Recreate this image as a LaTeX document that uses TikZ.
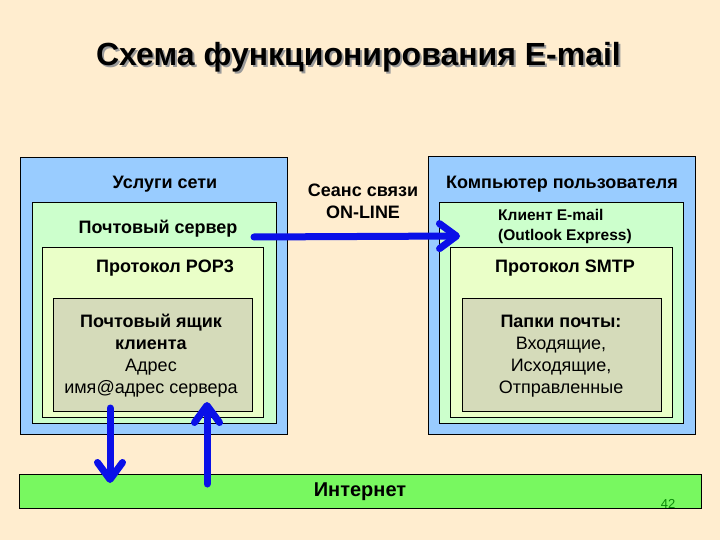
\documentclass[tikz,border=0pt]{standalone}
\usepackage{fontspec}
\setmainfont{Liberation Sans}
\usetikzlibrary{arrows.meta}
\definecolor{bgc}{HTML}{FFEDCF}
\definecolor{bluebox}{HTML}{99CCFF}
\definecolor{greenbox}{HTML}{CCFFCC}
\definecolor{yelbox}{HTML}{EAFFC8}
\definecolor{grbox}{HTML}{D5DBBA}
\definecolor{netbar}{HTML}{78F860}
\definecolor{arrblue}{HTML}{0A10E8}
\definecolor{pagenum}{HTML}{0A8A0A}
\begin{document}
\begin{tikzpicture}[x=1pt,y=-1pt,
  box/.style={draw=black,line width=0.9pt,anchor=north west,inner sep=0pt,outer sep=0pt},
  lbl/.style={inner sep=0pt,align=center,font=\fontsize{18}{22}\selectfont\bfseries},
  lblsmall/.style={inner sep=0pt,align=left,font=\fontsize{15.5}{20}\selectfont\bfseries},
  multi/.style={inner sep=0pt,align=center,font=\fontsize{18}{22}\selectfont},
  bigarrow/.style={draw=arrblue,line width=7pt,line cap=round,line join=round,
     -{Straight Barb[length=17pt,width=25pt,line cap=round,line join=round]}}]
\fill[bgc] (0,0) rectangle (720,540);
\useasboundingbox (0,0) rectangle (720,540);
% title
\node[inner sep=0pt,text=black!40,font=\fontsize{32}{38}\selectfont\bfseries] (titleshadow) at (360.5,59) {Схема функционирования E-mail};
\node[inner sep=0pt,font=\fontsize{32}{38}\selectfont\bfseries] (title) at (358.5,57) {Схема функционирования E-mail};
% left stack
\node[box,fill=bluebox,minimum width=267pt,minimum height=277pt] (Lout) at (20,157) {};
\node[box,fill=greenbox,minimum width=244pt,minimum height=221pt] (Lgrn) at (32,202) {};
\node[box,fill=yelbox,minimum width=221pt,minimum height=170pt] (Lyel) at (42,247) {};
\node[box,fill=grbox,minimum width=199pt,minimum height=113pt] (Lin) at (53,298) {};
\node[lbl] (uslugi) at (165,184) {Услуги сети};
\node[lbl] (server) at (158,229) {Почтовый сервер};
\node[lbl] (pop3) at (165,268) {Протокол POP3};
\node[multi] (mailbox) at (151,356) {\textbf{Почтовый ящик}\\\textbf{клиента}\\Адрес\\имя@адрес сервера};
% right stack
\node[box,fill=bluebox,minimum width=267pt,minimum height=278pt] (Rout) at (428,156) {};
\node[box,fill=greenbox,minimum width=244pt,minimum height=221pt] (Rgrn) at (439,202) {};
\node[box,fill=yelbox,minimum width=222pt,minimum height=170pt] (Ryel) at (450,247) {};
\node[box,fill=grbox,minimum width=199pt,minimum height=113pt] (Rin) at (462,298) {};
\node[lbl] (comp) at (562,184) {Компьютер пользователя};
\node[lblsmall,anchor=west] (client) at (498,226) {Клиент E-mail\\(Outlook Express)};
\node[lbl] (smtp) at (565,268) {Протокол SMTP};
\node[multi] (folders) at (561,356) {\textbf{Папки почты:}\\Входящие,\\Исходящие,\\Отправленные};
% middle
\node[lbl] (session) at (363,201) {Сеанс связи\\ON-LINE};
% internet bar
\node[box,fill=netbar,minimum width=682pt,minimum height=34pt] (net) at (19,474) {};
\node[lbl,font=\fontsize{20}{24}\selectfont\bfseries] (nettext) at (360,492) {Интернет};
\node[inner sep=0pt,text=pagenum,font=\fontsize{13}{15}\selectfont] (pnum) at (668,504) {42};
% arrows
\coordinate (hs) at (254,237);
\coordinate (he) at (460,236);
\draw[bigarrow] (hs) -- (he);
\coordinate (ds) at (110,408);
\coordinate (de) at (110,483);
\draw[bigarrow] (ds) -- (de);
\coordinate (us) at (207,484);
\coordinate (ue) at (207,402);
\draw[bigarrow] (us) -- (ue);
\end{tikzpicture}
\end{document}
